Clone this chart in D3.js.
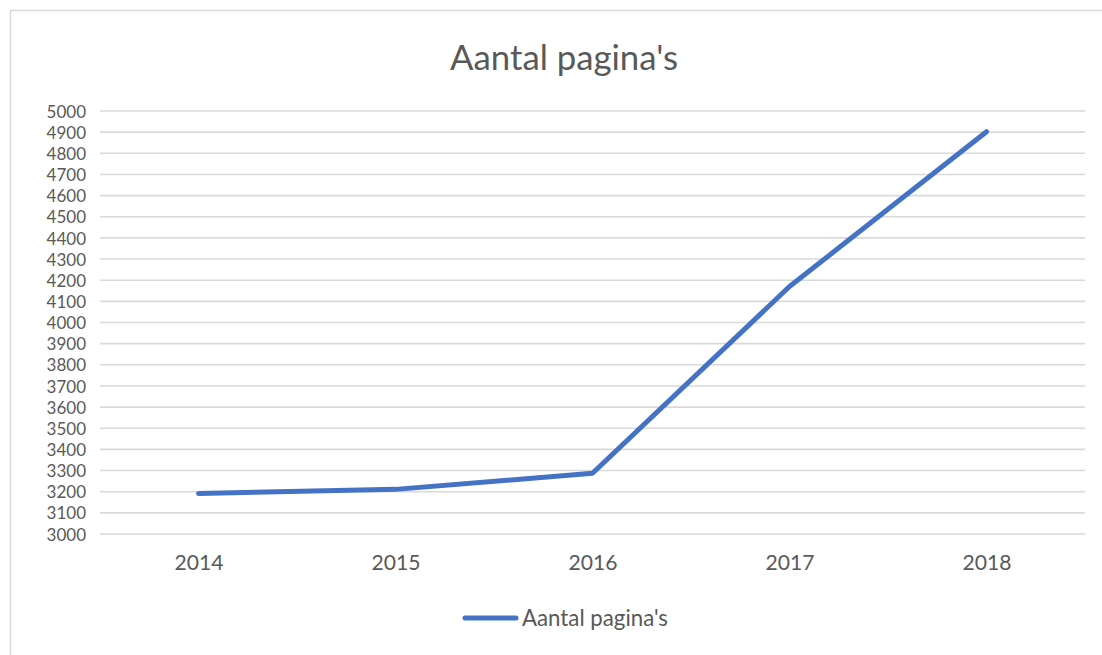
<!DOCTYPE html>
<html>
<head>
<meta charset="utf-8">
<script src="https://cdn.jsdelivr.net/npm/d3@7"></script>
<style>
  html, body { margin: 0; padding: 0; background: #fff; }
  svg { display: block; }
</style>
</head>
<body>
<script>
const categories = ["2014", "2015", "2016", "2017", "2018"];
const values = [3192, 3211, 3287, 4170, 4902];
const yTicks = d3.range(3000, 5001, 100);
const seriesName = "Aantal pagina's";
const chartTitle = "Aantal pagina's";

(function () {
const W = 1102, H = 655;
const svg = d3.select("body").append("svg").attr("width", W).attr("height", H);
const font = "Lato, 'Open Sans', sans-serif";
const textColor = "#595959";

function fitWidth(sel, base, target) {
  sel.attr("font-size", base);
  const w = sel.node().getComputedTextLength();
  sel.attr("font-size", base * target / w);
}

// chart frame
svg.append("rect").attr("x", 10.5).attr("y", 10.5).attr("width", W + 20).attr("height", H + 20)
  .attr("fill", "#fff").attr("stroke", "#d9d9d9").attr("stroke-width", 1.5);

const pLeft = 100, pRight = 1085, pTop = 111, pBottom = 534;
const x = d3.scalePoint().domain(categories).range([pLeft, pRight]).padding(0.5);
const y = d3.scaleLinear().domain([3000, 5000]).range([pBottom, pTop]);

// gridlines
svg.append("g").selectAll("line").data(yTicks).join("line")
  .attr("x1", pLeft).attr("x2", pRight)
  .attr("y1", d => y(d)).attr("y2", d => y(d))
  .attr("stroke", "#d9d9d9").attr("stroke-width", 1.6);

// y axis labels
const yAxis = d3.axisLeft(y).tickValues(yTicks).tickSize(0).tickPadding(0).tickFormat(d3.format("d"));
const gy = svg.append("g").attr("transform", "translate(86,0)").call(yAxis);
gy.select(".domain").remove();
gy.selectAll("text").attr("font-family", font).attr("font-size", 17).attr("fill", textColor).attr("dy", "0.36em");

// x axis labels
const xAxis = d3.axisBottom(x).tickSize(0).tickPadding(0);
const gx = svg.append("g").attr("transform", "translate(0,553)").call(xAxis);
gx.select(".domain").remove();
gx.selectAll("text").attr("font-family", font).attr("fill", textColor).attr("dy", "0.8em");
const firstX = gx.select(".tick text");
fitWidth(firstX, 19, 49);
gx.selectAll("text").attr("font-size", firstX.attr("font-size"));

// line
const line = d3.line().x((d, i) => x(categories[i])).y(d => y(d));
svg.append("path").datum(values).attr("d", line)
  .attr("fill", "none").attr("stroke", "#4472C4").attr("stroke-width", 5)
  .attr("stroke-linecap", "round").attr("stroke-linejoin", "round");

// title
const t = svg.append("text").attr("x", 564).attr("y", 70).attr("text-anchor", "middle")
  .attr("font-family", font).attr("fill", textColor).text(chartTitle);
fitWidth(t, 30, 228);

// legend
svg.append("line").attr("x1", 465).attr("x2", 516).attr("y1", 618).attr("y2", 618)
  .attr("stroke", "#4472C4").attr("stroke-width", 5).attr("stroke-linecap", "round");
const lt = svg.append("text").attr("x", 522).attr("y", 618).attr("dy", "0.35em")
  .attr("font-family", font).attr("fill", textColor).text(seriesName);
fitWidth(lt, 18, 146);
})();
</script>
</body>
</html>
